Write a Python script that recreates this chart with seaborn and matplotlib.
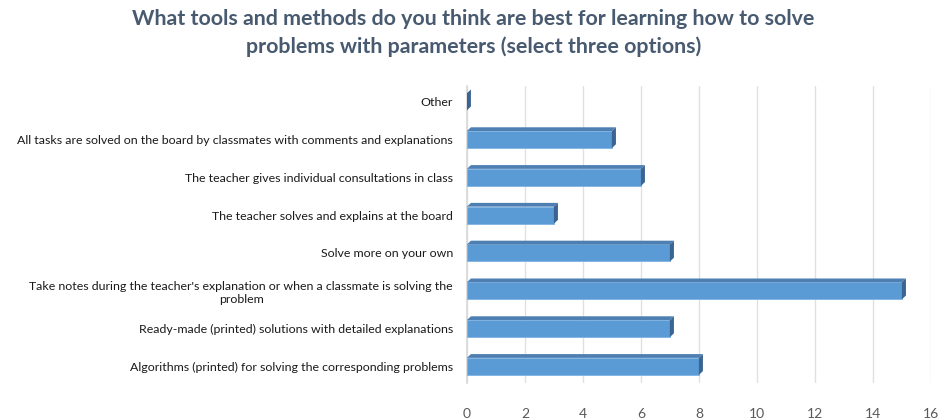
import matplotlib
matplotlib.use("Agg")
import matplotlib.pyplot as plt
import seaborn as sns
import pandas as pd
from matplotlib.patches import Polygon

categories = [
    "Other",
    "All tasks are solved on the board by classmates with comments and explanations",
    "The teacher gives individual consultations in class",
    "The teacher solves and explains at the board",
    "Solve more on your own",
    "Take notes during the teacher's explanation or when a classmate is solving the\nproblem",
    "Ready-made (printed) solutions with detailed explanations",
    "Algorithms (printed) for solving the corresponding problems",
]
counts = [0, 5, 6, 3, 7, 15, 7, 8]
x_ticks = [0, 2, 4, 6, 8, 10, 12, 14, 16]

title = ("What tools and methods do you think are best for learning how to solve\n"
         "problems with parameters (select three options)")

df = pd.DataFrame({"method": categories, "count": counts})

sns.set_theme(style="white")
plt.rcParams["font.family"] = ["Lato", "DejaVu Sans"]

fig = plt.figure(figsize=(9.47, 4.19), dpi=100)
ax = fig.add_axes([0.493, 0.085, 0.49, 0.71])

sns.barplot(data=df, x="count", y="method", ax=ax, color="#5B9BD5",
            width=0.45, saturation=1, edgecolor="#7FB2E2", linewidth=0.6,
            zorder=3)

# fake 3D look: top face and right side face of each bar
dx, dy = 0.14, 0.1
for p in ax.patches:
    x0, y0 = p.get_x(), p.get_y()
    w, h = p.get_width(), p.get_height()
    top = Polygon([(x0, y0), (x0 + w, y0), (x0 + w + dx, y0 - dy), (x0 + dx, y0 - dy)],
                  closed=True, facecolor="#4E7FB3", edgecolor="none", zorder=3)
    side = Polygon([(x0 + w, y0), (x0 + w + dx, y0 - dy), (x0 + w + dx, y0 + h - dy), (x0 + w, y0 + h)],
                   closed=True, facecolor="#3B6591", edgecolor="none", zorder=3)
    ax.add_patch(top)
    ax.add_patch(side)

ax.set_xlim(0, 16)
ax.set_ylim(7.45, -0.42)
ax.set_xticks(x_ticks)
ax.set_xticklabels([str(t) for t in x_ticks])
ax.xaxis.grid(True, color="#DCE1E8", linewidth=1.0, zorder=0)
ax.set_xlabel("")
ax.set_ylabel("")
for s in ["top", "right", "bottom"]:
    ax.spines[s].set_visible(False)
ax.spines["left"].set_color("#D9D9D9")

ax.tick_params(axis="x", labelsize=10, colors="#595959", pad=18, length=0)
ax.tick_params(axis="y", labelsize=8.9, colors="#1A1A1A", pad=10, length=0)
for lbl in ax.get_yticklabels():
    lbl.set_multialignment("center")

fig.suptitle(title, x=0.5, y=0.978, fontsize=15.4, fontweight="bold",
             color="#485A70", linespacing=1.45)

fig.savefig("out.png", dpi=100)
